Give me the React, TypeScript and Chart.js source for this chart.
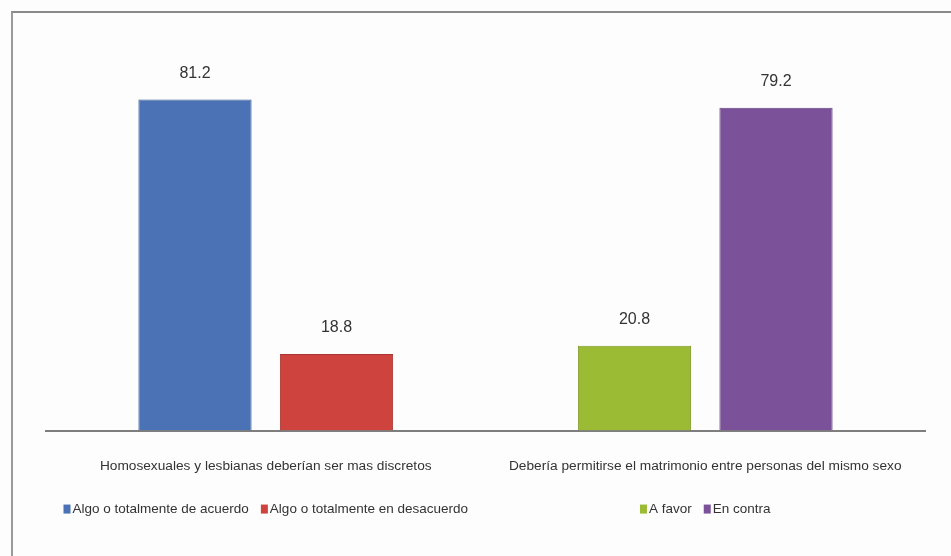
import React, { useEffect, useRef } from "react";
import { Chart, registerables } from "chart.js";

Chart.register(...registerables);

const categories = [
  "Homosexuales y lesbianas deberían ser mas discretos",
  "Debería permitirse el matrimonio entre personas del mismo sexo",
];
const seriesNames = [
  "Algo o totalmente de acuerdo",
  "Algo o totalmente en desacuerdo",
  "A favor",
  "En contra",
];
const seriesGroup = [0, 0, 1, 1];
const acuerdo = [81.2, null];
const desacuerdo = [18.8, null];
const aFavor = [null, 20.8];
const enContra = [null, 79.2];
const seriesColors = ["#4a72b4", "#cf433f", "#9cbb34", "#7b529a"];
const seriesBorders = ["#3a5c94", "#a83532", "#7f9a29", "#62417d"];

const FONT = "'Liberation Sans', Arial, sans-serif";

const labelPlugin = {
  id: "valueLabels",
  afterDatasetsDraw(chart: any) {
    const ctx = chart.ctx;
    ctx.save();
    ctx.font = `16px ${FONT}`;
    ctx.fillStyle = "#333";
    ctx.textAlign = "center";
    ctx.textBaseline = "bottom";
    chart.data.datasets.forEach((ds: any, i: number) => {
      const meta = chart.getDatasetMeta(i);
      meta.data.forEach((el: any, j: number) => {
        const v = ds.data[j];
        if (v === null || v === undefined) return;
        ctx.fillText(v.toFixed(1), el.x, el.y - 18);
      });
    });
    ctx.restore();
  },
};

const legendPlugin = {
  id: "groupLegends",
  afterDraw(chart: any) {
    const ctx = chart.ctx;
    const xs = chart.scales.x;
    const y = chart.chartArea.bottom + 79;
    ctx.save();
    ctx.font = `13.5px ${FONT}`;
    ctx.textBaseline = "middle";
    ctx.textAlign = "left";
    categories.forEach((_c, g) => {
      const items = seriesNames
        .map((n, i) => ({ n, i }))
        .filter((it) => seriesGroup[it.i] === g);
      const box = 7;
      const gapAfterBox = 2;
      const gapBetween = 12;
      const widths = items.map((it) => box + gapAfterBox + ctx.measureText(it.n).width);
      const total = widths.reduce((a, b) => a + b, 0) + gapBetween * (items.length - 1);
      let x = xs.getPixelForValue(g) - total / 2;
      items.forEach((it, k) => {
        ctx.fillStyle = seriesColors[it.i];
        ctx.fillRect(x, y - 5, box, 9);
        ctx.fillStyle = "#333";
        ctx.fillText(it.n, x + box + gapAfterBox, y);
        x += widths[k] + gapBetween;
      });
    });
    ctx.restore();
  },
};

export default function App() {
  const ref = useRef<HTMLCanvasElement>(null);
  useEffect(() => {
    document.body.style.margin = "0";
    const datasets = [acuerdo, desacuerdo, aFavor, enContra].map((d, i) => ({
      label: seriesNames[i],
      data: d,
      backgroundColor: seriesColors[i],
      borderColor: seriesBorders[i],
      borderWidth: 1,
    }));
    const chart = new Chart(ref.current as HTMLCanvasElement, {
      type: "bar",
      data: { labels: categories, datasets },
      plugins: [labelPlugin, legendPlugin],
      options: {
        animation: false,
        responsive: false,
        skipNull: true,
        categoryPercentage: 0.644,
        barPercentage: 0.8,
        layout: { padding: { left: 46, right: 26, top: 23, bottom: 55 } },
        plugins: { legend: { display: false }, tooltip: { enabled: false } },
        scales: {
          y: { display: false, min: 0, max: 100 },
          x: {
            grid: { display: false, drawTicks: false },
            border: { display: true, color: "#7e7e7e", width: 2 },
            ticks: {
              color: "#333",
              padding: 27,
              font: { family: FONT, size: 13.7 },
              maxRotation: 0,
              autoSkip: false,
            },
          },
        },
      } as any,
    });
    return () => chart.destroy();
  }, []);
  return (
    <div style={{ position: "relative", width: 951, height: 556, background: "#fdfdfd" }}>
      <div
        style={{
          position: "absolute",
          left: 11,
          top: 11,
          right: 0,
          bottom: 0,
          borderLeft: "2px solid #9a9a9a",
          borderTop: "2px solid #8a8a8a",
        }}
      />
      <canvas ref={ref} width={951} height={556} style={{ position: "absolute", left: 0, top: 0 }} />
    </div>
  );
}
